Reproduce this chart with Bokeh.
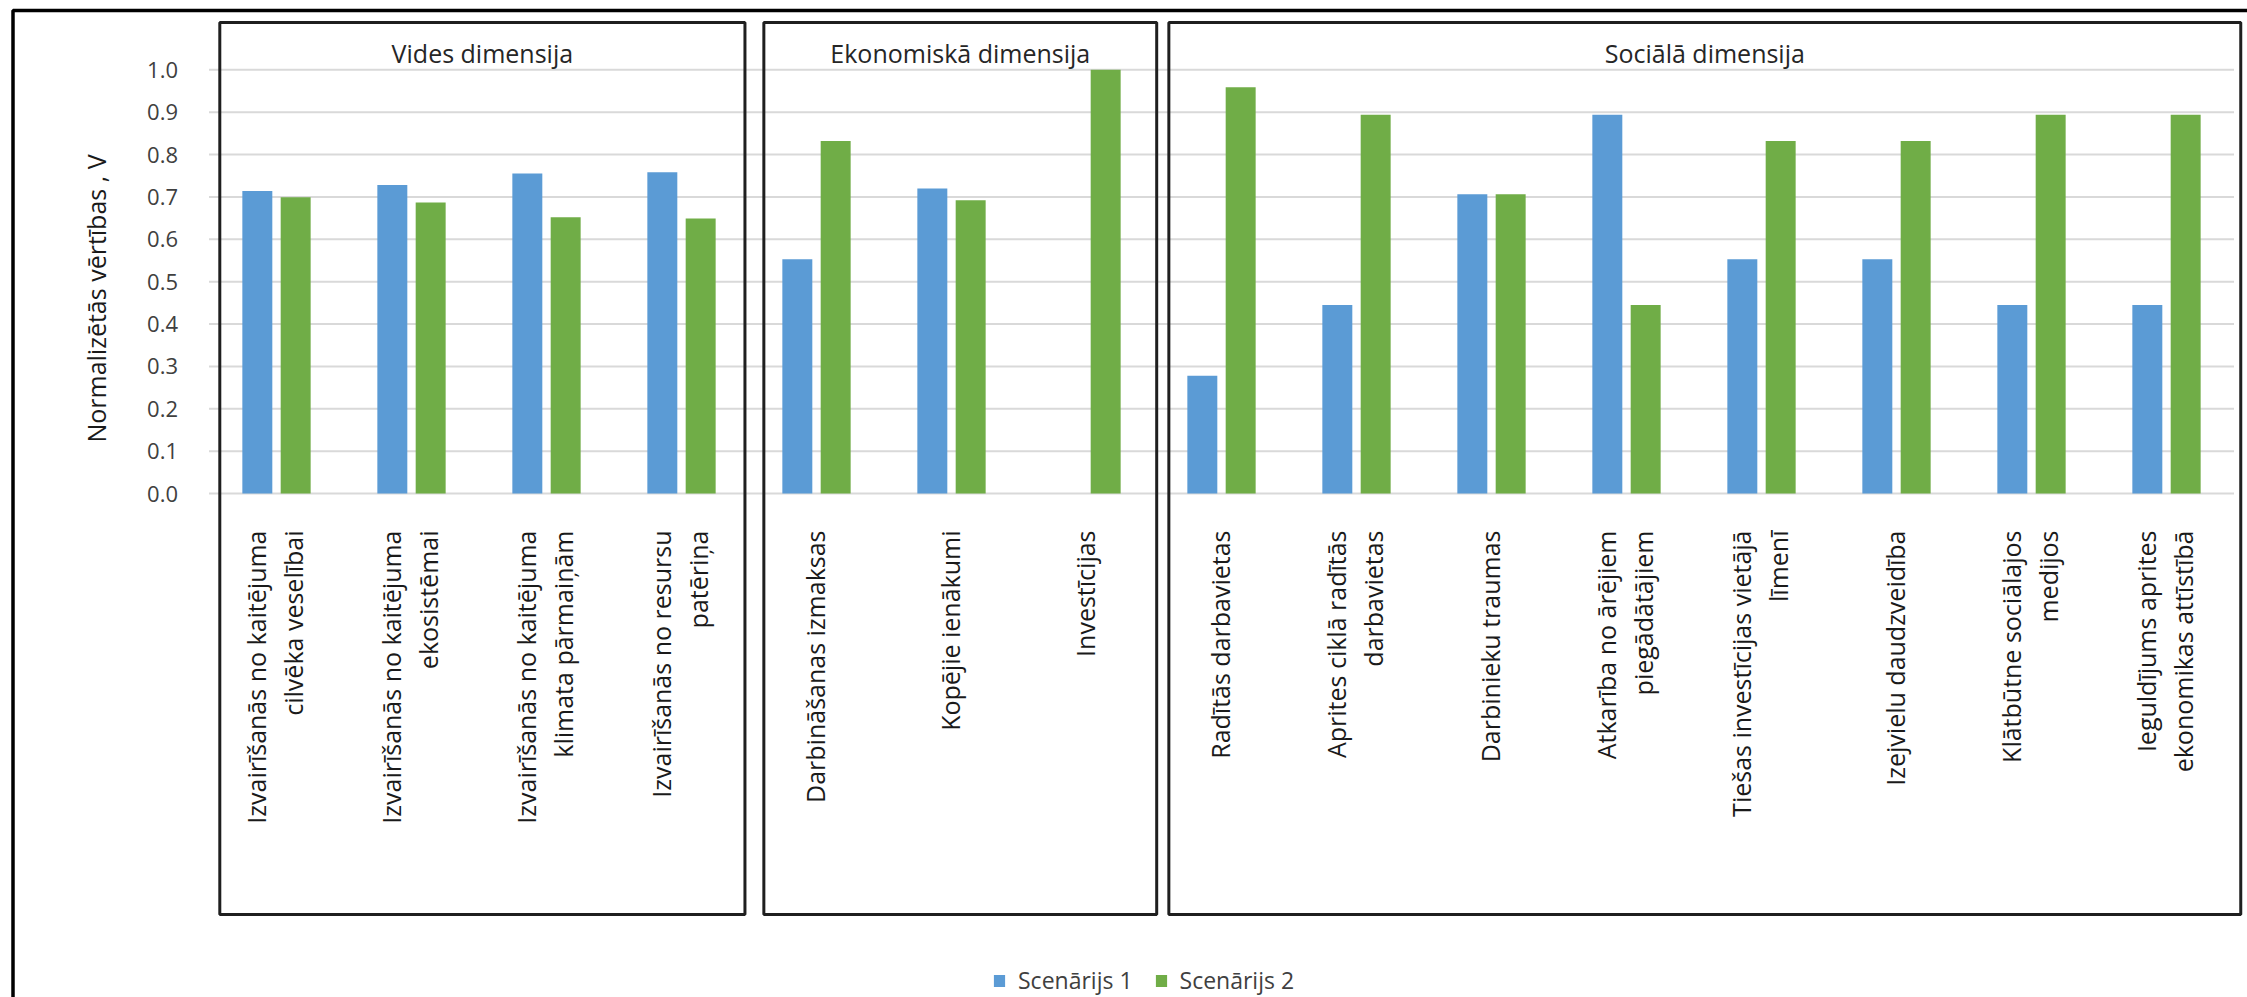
from math import pi

from bokeh.core.properties import value
from bokeh.embed import file_html
from bokeh.models import (ColumnDataSource, FixedTicker, Legend, LegendItem,
                          LinearAxis, PrintfTickFormatter, Range1d)
from bokeh.plotting import figure
from bokeh.resources import INLINE
from bokeh.transform import dodge

# ---------------------------------------------------------------- data
dimensions = ["Vides dimensija", "Ekonomiskā dimensija", "Sociālā dimensija"]
dimension_sizes = [4, 3, 8]

categories = [
    "Izvairīšanās no kaitējuma\ncilvēka veselībai",
    "Izvairīšanās no kaitējuma\nekosistēmai",
    "Izvairīšanās no kaitējuma\nklimata pārmaiņām",
    "Izvairīšanās no resursu\npatēriņa",
    "Darbināšanas izmaksas",
    "Kopējie ienākumi",
    "Investīcijas",
    "Radītās darbavietas",
    "Aprites ciklā radītās\ndarbavietas",
    "Darbinieku traumas",
    "Atkarība no ārējiem\npiegādātājiem",
    "Tiešas investīcijas vietājā\nlīmenī",
    "Izejvielu daudzveidība",
    "Klātbūtne sociālajos\nmedijos",
    "Ieguldījums aprites\nekonomikas attīstībā",
]

scenario_1 = [0.714, 0.728, 0.755, 0.758,
              0.553, 0.720, 0.0,
              0.278, 0.445, 0.706, 0.894, 0.553, 0.553, 0.445, 0.445]
scenario_2 = [0.699, 0.687, 0.652, 0.649,
              0.832, 0.692, 1.0,
              0.959, 0.894, 0.706, 0.445, 0.832, 0.832, 0.894, 0.894]

series_names = ["Scenārijs 1", "Scenārijs 2"]
y_ticks = [0.0, 0.1, 0.2, 0.3, 0.4, 0.5, 0.6, 0.7, 0.8, 0.9, 1.0]

# ---------------------------------------------------------------- layout
W, H = 2247, 997
CAT0_PX, CAT_STEP_PX = 276.0, 135.0   # centre of first category, category pitch
ZERO_PX, UNIT_PX = 493.0, 423.7       # baseline row, pixels per 1.0
LABEL_LINE_PX = 37.0                  # distance between wrapped label lines

FONT = value("Open Sans")
BLUE, GREEN = "#5B9BD5", "#70AD47"


def px_x(px):
    return (px - CAT0_PX) / CAT_STEP_PX


def px_y(py):
    return (ZERO_PX - py) / UNIT_PX


p = figure(width=W, height=H,
           x_range=Range1d(px_x(0), px_x(W)),
           y_range=Range1d(px_y(H), px_y(0)),
           output_backend="svg", toolbar_location=None,
           x_axis_location=None, y_axis_location=None,
           min_border=0)
p.outline_line_color = None
p.grid.visible = False
p.background_fill_color = "white"

n = len(categories)
edge_lo, edge_hi = -0.5, n - 0.5

# value axis drawn at the left edge of the first category
yaxis = LinearAxis(ticker=FixedTicker(ticks=y_ticks),
                   formatter=PrintfTickFormatter(format="%.1f"),
                   fixed_location=edge_lo)
yaxis.axis_line_color = None
yaxis.major_tick_line_color = None
yaxis.minor_tick_line_color = None
yaxis.major_label_text_font = "Open Sans"
yaxis.major_label_text_font_size = "22px"
yaxis.major_label_text_color = "#404040"
yaxis.major_label_standoff = 25
p.add_layout(yaxis, "left")

# horizontal gridlines across all three panels
p.segment(x0=edge_lo, x1=edge_hi, y0=y_ticks, y1=y_ticks,
          line_color="#D9D9D9", line_width=2)

# bars
src = ColumnDataSource(dict(x=list(range(n)), s1=scenario_1, s2=scenario_2))
bar_w, off = 0.222, 0.142
r1 = p.vbar(x=dodge("x", -off, range=p.x_range), top="s1", width=bar_w,
            source=src, fill_color=BLUE, line_color=None)
r2 = p.vbar(x=dodge("x", off, range=p.x_range), top="s2", width=bar_w,
            source=src, fill_color=GREEN, line_color=None)

# rotated category labels hanging below the baseline; every wrapped line
# is its own text so that all lines end flush at the top
lx, ltext, loff = [], [], []
for i, lab in enumerate(categories):
    parts = lab.split("\n")
    k = len(parts)
    for j, part in enumerate(parts):
        lx.append(i)
        ltext.append(part)
        loff.append((j - (k - 1) / 2) * LABEL_LINE_PX - 2)
label_src = ColumnDataSource(dict(x=lx, text=ltext, off=loff))
p.text(x="x", y=px_y(530), text="text", x_offset="off", source=label_src,
       angle=pi / 2, text_align="right", text_baseline="middle",
       text_font=FONT, text_font_size="25px", text_color="#1a1a1a")

# dimension panels: frame + heading
panel_pad = [(0.42, 0.47), (0.39, 0.52), (0.39, 0.55)]
starts = [sum(dimension_sizes[:k]) for k in range(len(dimension_sizes))]
pl, pr = [], []
for s, size, (a, b) in zip(starts, dimension_sizes, panel_pad):
    pl.append(s - a)
    pr.append(s + size - 1 + b)
p.quad(left=pl, right=pr, top=px_y(22), bottom=px_y(914),
       fill_color=None, line_color="#1f1f1f", line_width=3)
p.text(x=[(a + b) / 2 for a, b in zip(pl, pr)], y=px_y(52), text=dimensions,
       text_align="center", text_baseline="middle",
       text_font=FONT, text_font_size="25px", text_color="#262626")

# value axis title
p.text(x=[px_x(95)], y=[px_y(298)], text=["Normalizētās vērtības , V"],
       angle=pi / 2, text_align="center", text_baseline="middle",
       text_font=FONT, text_font_size="25px", text_color="#1a1a1a")

# outer border of the figure (left and top edges)
p.line(x=[px_x(12.5), px_x(12.5), px_x(W + 20)],
       y=[px_y(H + 20), px_y(10), px_y(10)],
       line_color="black", line_width=3.5)

legend = Legend(items=[LegendItem(label=series_names[0], renderers=[r1]),
                       LegendItem(label=series_names[1], renderers=[r2])],
                orientation="horizontal", location=(992, 1),
                glyph_width=14, glyph_height=15, label_standoff=12, spacing=21,
                padding=0, margin=0, border_line_color=None,
                background_fill_alpha=0,
                label_text_font="Open Sans", label_text_font_size="23px",
                label_text_color="#404040")
p.add_layout(legend)

open("out.html", "w").write(file_html(p, INLINE))
